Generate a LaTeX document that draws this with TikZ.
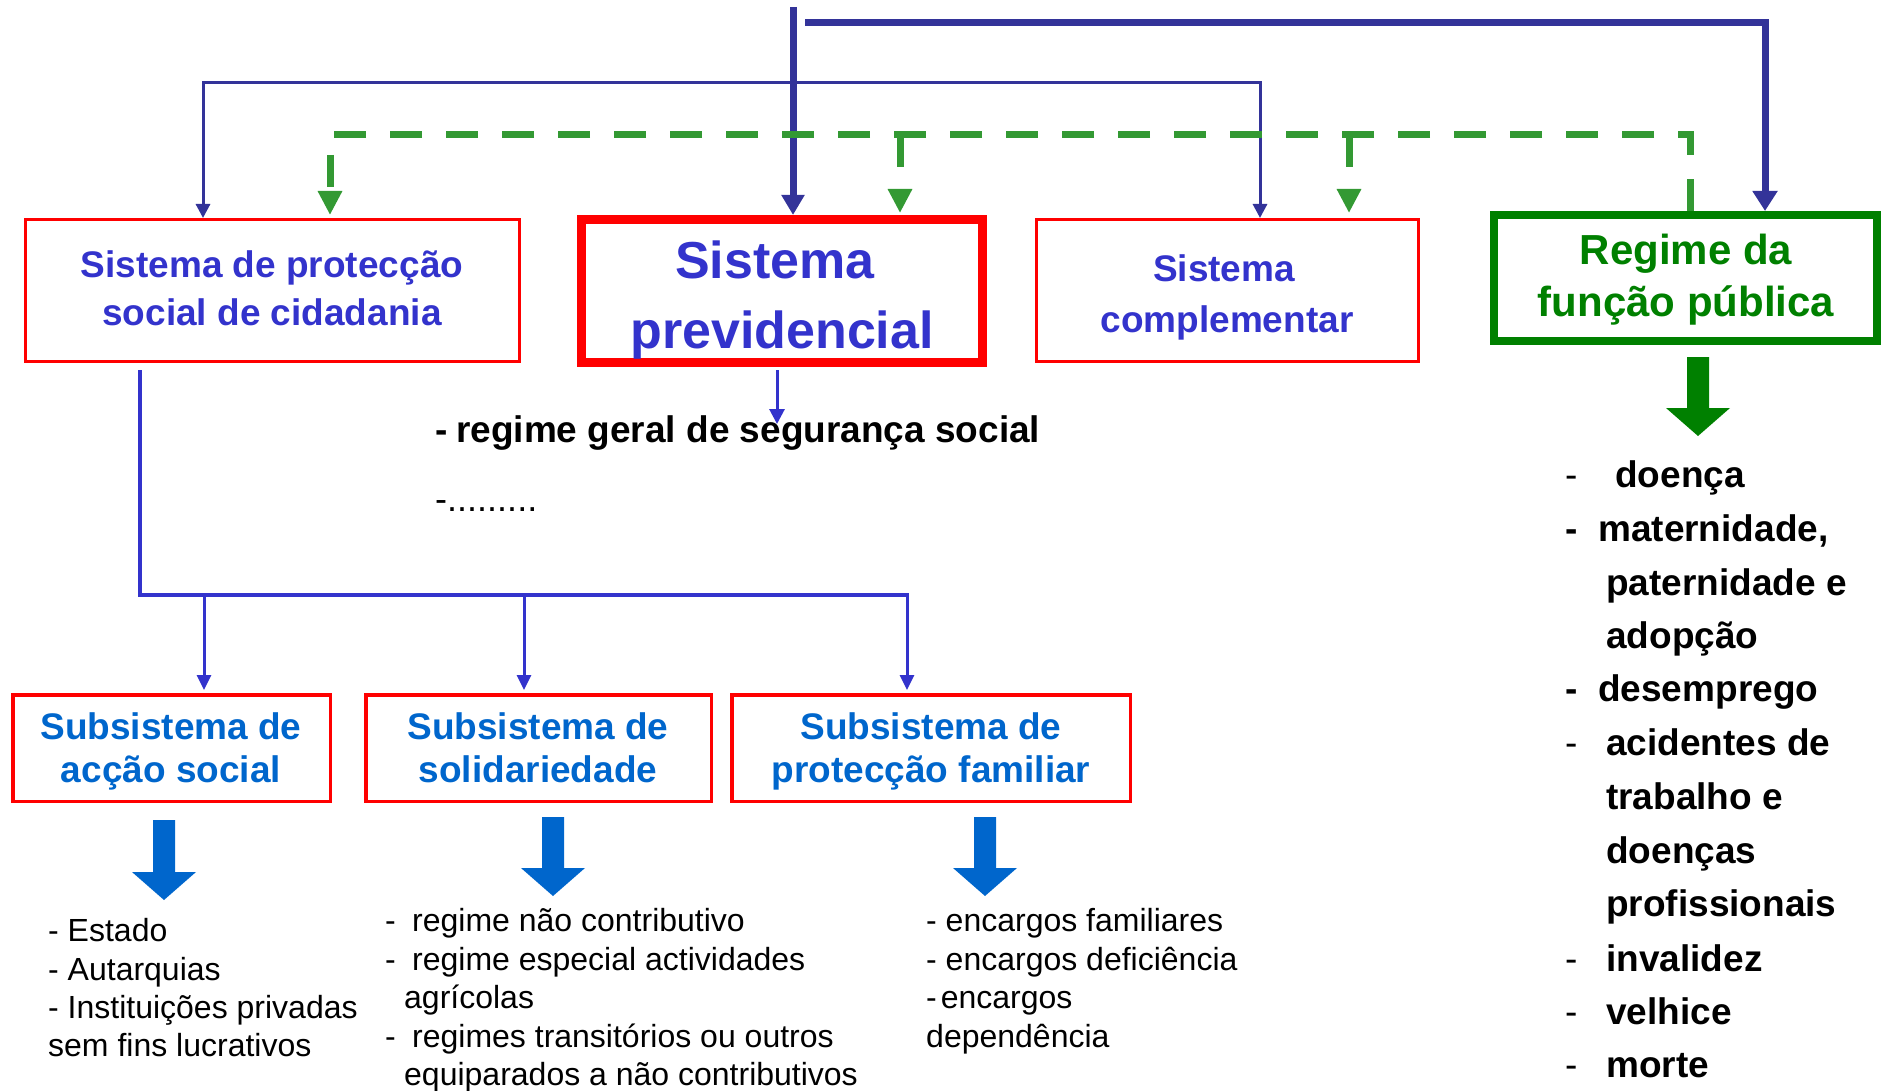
\documentclass[tikz,border=0pt]{standalone}
\usepackage{fontspec}
\setmainfont{Liberation Sans}
\usetikzlibrary{arrows.meta}
\definecolor{navy}{RGB}{51,51,153}
\definecolor{tblue}{RGB}{51,51,204}
\definecolor{sblue}{RGB}{0,102,204}
\definecolor{dgreen}{RGB}{0,128,0}
\definecolor{lgreen}{RGB}{51,153,51}
\definecolor{bred}{RGB}{255,0,0}
\begin{document}
\begin{tikzpicture}[x=1pt,y=-1pt,
  redbox/.style={draw=bred, line width=3pt, inner sep=0pt},
  txt/.style={inner sep=0pt, anchor=base},
  ltxt/.style={inner sep=0pt, anchor=base west},
  fbig/.style={font={\fontsize{52pt}{60pt}\selectfont\bfseries}},
  fbox/.style={font={\fontsize{37pt}{44pt}\selectfont\bfseries}},
  fgreen/.style={font={\fontsize{42pt}{50pt}\selectfont\bfseries}},
  freg/.style={font={\fontsize{32pt}{38pt}\selectfont}},
  fregm/.style={font={\fontsize{36pt}{42pt}\selectfont}},
  fbold/.style={font={\fontsize{37pt}{44pt}\selectfont\bfseries}},
  fregl/.style={font={\fontsize{37pt}{44pt}\selectfont}},
  greendash/.style={lgreen, line width=7pt, dash pattern=on 32pt off 24pt, -{Triangle[width=23pt,length=24pt]}},
  thinarrow/.style={tblue, line width=3pt, shorten >=3pt, -{Triangle[width=14pt,length=15pt]}}
]
\useasboundingbox (0,0) rectangle (1881,1091);

% boxes
\node[redbox, minimum width=494pt, minimum height=142pt] (b1) at (272.5,290.5) {};
\node[redbox, line width=9pt, minimum width=401pt, minimum height=143pt] (b2) at (782,291) {};
\node[redbox, minimum width=382pt, minimum height=142pt] (b3) at (1227.5,290.5) {};
\node[draw=dgreen, line width=8pt, inner sep=0pt, minimum width=383pt, minimum height=126pt] (b4) at (1685.5,278) {};
\node[redbox, line width=3.5pt, minimum width=317.5pt, minimum height=106.5pt] (s1) at (171.5,748) {};
\node[redbox, line width=3.5pt, minimum width=345.5pt, minimum height=106.5pt] (s2) at (538.5,748) {};
\node[redbox, line width=3.5pt, minimum width=398.5pt, minimum height=106.5pt] (s3) at (931,748) {};

% box texts
\node[txt, fbox, text=tblue] (b1a) at (272,277) {Sistema de protecção};
\node[txt, fbox, text=tblue] (b1b) at (272,325) {social de cidadania};
\node[txt, fbig, text=tblue] (b2a) at (775,279) {Sistema};
\node[txt, fbig, text=tblue] (b2b) at (782,348) {previdencial};
\node[txt, fbox, text=tblue] (b3a) at (1224,282) {Sistema};
\node[txt, fbox, text=tblue] (b3b) at (1227,332) {complementar};
\node[txt, fgreen, text=dgreen] (b4a) at (1686,265) {Regime da};
\node[txt, fgreen, text=dgreen] (b4b) at (1686,316) {função pública};
\node[txt, fbox, text=sblue] (s1a) at (171,739) {Subsistema de};
\node[txt, fbox, text=sblue] (s1b) at (171,782) {acção social};
\node[txt, fbox, text=sblue] (s2a) at (538,739) {Subsistema de};
\node[txt, fbox, text=sblue] (s2b) at (538,782) {solidariedade};
\node[txt, fbox, text=sblue] (s3a) at (931,739) {Subsistema de};
\node[txt, fbox, text=sblue] (s3b) at (931,782) {protecção familiar};

% top connectors
\coordinate (top) at (793,7);
\draw[navy, line width=7pt, -{Triangle[width=22pt,length=20pt]}] (top) -- (top |- b2.north);
\coordinate (h1) at (805,23);
\coordinate (h2) at (1765,23);
\draw[navy, line width=7pt, -{Triangle[width=24pt,length=20pt]}] (h1) -- (h2) -- (h2 |- b4.north);
\coordinate (t1) at (203,83);
\coordinate (t2) at (1260,83);
\draw[navy, line width=3pt, {Triangle[width=14pt,length=14pt]}-{Triangle[width=14pt,length=14pt]}] (t1 |- b1.north) -- (t1) -- (t2) -- (t2 |- b3.north);

% green dashed
\coordinate (g1) at (330,135);
\coordinate (g2) at (900,135);
\coordinate (g3) at (1349,135);
\coordinate (g4) at (1690,135);
\draw[greendash, shorten >=3pt] (g4 |- b4.north) -- (g4) -- (g1) -- (g1 |- b1.north);
\draw[greendash, shorten >=2pt] (g2) -- (g2 |- b2.north);
\draw[greendash, shorten >=5pt] (g3) -- (g3 |- b3.north);

% previdencial arrow and text
\coordinate (p0) at (777,370);
\coordinate (p1) at (777,424);
\node[ltxt, fbold] (rgd) at (435,442) {-};
\node[ltxt, fbold] (rg) at (456,442) {regime geral de segurança social};
\node[ltxt, fregm] (dots) at (435,511) {-.........};
\draw[tblue, line width=3pt, -{Triangle[width=15pt,length=15pt]}] (p0) -- (p1);

% lower tree
\coordinate (v0) at (140,370);
\coordinate (v1) at (140,595);
\coordinate (v2) at (909,595);
\draw[tblue, line width=3.5pt] (v0) -- (v1) -- (v2);
\coordinate (d1) at (204,595);
\coordinate (d2) at (524,595);
\coordinate (d3) at (907,595);
\draw[thinarrow] (d1) -- (d1 |- s1.north);
\draw[thinarrow] (d2) -- (d2 |- s2.north);
\draw[thinarrow] (d3) -- (d3 |- s3.north);

% block arrows
\fill[sblue] (153,820) -- (175,820) -- (175,872) -- (196,872) -- (164,900) -- (132,872) -- (153,872) -- cycle;
\fill[sblue] (542,817) -- (564,817) -- (564,868) -- (585,868) -- (553,896) -- (521,868) -- (542,868) -- cycle;
\fill[sblue] (974,817) -- (996,817) -- (996,868) -- (1017,868) -- (985,896) -- (953,868) -- (974,868) -- cycle;
\fill[dgreen] (1687,357) -- (1709,357) -- (1709,408) -- (1730,408) -- (1698,436) -- (1666,408) -- (1687,408) -- cycle;

% list 1
\node[ltxt, freg] (l1a) at (48,941) {- Estado};
\node[ltxt, freg] (l1b) at (48,980) {- Autarquias};
\node[ltxt, freg] (l1c) at (48,1018) {- Instituições privadas};
\node[ltxt, freg] (l1d) at (48,1056) {sem fins lucrativos};

% list 2
\node[ltxt, freg] (l2ad) at (385,931) {-};
\node[ltxt, freg] (l2a) at (412,931) {regime não contributivo};
\node[ltxt, freg] (l2bd) at (385,970) {-};
\node[ltxt, freg] (l2b) at (412,970) {regime especial actividades};
\node[ltxt, freg] (l2c) at (404,1008) {agrícolas};
\node[ltxt, freg] (l2dd) at (385,1047) {-};
\node[ltxt, freg] (l2d) at (412,1047) {regimes transitórios ou outros};
\node[ltxt, freg] (l2e) at (404,1085) {equiparados a não contributivos};

% list 3
\node[ltxt, freg] (l3a) at (926,931) {- encargos familiares};
\node[ltxt, freg] (l3b) at (926,970) {- encargos deficiência};
\node[ltxt, freg] (l3c) at (926,1008) {-\hspace{4pt}encargos};
\node[ltxt, freg] (l3d) at (926,1047) {dependência};

% right list
\node[ltxt, fregl] (r1d) at (1565,487) {-};
\node[ltxt, fbold] (r1) at (1615,487) {doença};
\node[ltxt, fbold] (r2d) at (1565,541) {-};
\node[ltxt, fbold] (r2) at (1598,541) {maternidade,};
\node[ltxt, fbold] (r3) at (1606,595) {paternidade e};
\node[ltxt, fbold] (r4) at (1606,648) {adopção};
\node[ltxt, fbold] (r5d) at (1565,701) {-};
\node[ltxt, fbold] (r5) at (1598,701) {desemprego};
\node[ltxt, fregl] (r6d) at (1565,755) {-};
\node[ltxt, fbold] (r6) at (1606,755) {acidentes de};
\node[ltxt, fbold] (r7) at (1606,809) {trabalho e};
\node[ltxt, fbold] (r8) at (1606,863) {doenças};
\node[ltxt, fbold] (r9) at (1606,916) {profissionais};
\node[ltxt, fregl] (r10d) at (1565,971) {-};
\node[ltxt, fbold] (r10) at (1606,971) {invalidez};
\node[ltxt, fregl] (r11d) at (1565,1024) {-};
\node[ltxt, fbold] (r11) at (1606,1024) {velhice};
\node[ltxt, fregl] (r12d) at (1565,1077) {-};
\node[ltxt, fbold] (r12) at (1606,1077) {morte};
\end{tikzpicture}
\end{document}
